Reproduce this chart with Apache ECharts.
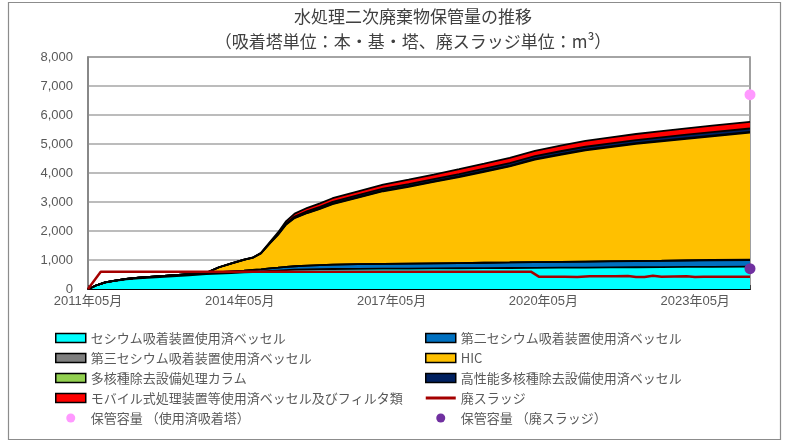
<!DOCTYPE html>
<html>
<head>
<meta charset="utf-8">
<script src="https://cdn.jsdelivr.net/npm/echarts@6/dist/echarts.min.js"></script>
<style>html,body{margin:0;padding:0;background:#fff}#chart{width:787px;height:444px}</style>
</head>
<body>
<div id="chart"></div>
<script>
// 月（共通のx）
var months = ['2011/05','2011/06','2011/07','2011/08','2011/09','2011/11','2012/02','2012/05','2012/11',
  '2013/05','2013/09','2013/12','2014/03','2014/06','2014/08','2014/10','2014/12',
  '2015/02','2015/04','2015/06','2015/09','2015/12','2016/03','2016/09','2017/03','2017/09',
  '2018/03','2018/09','2019/03','2019/09','2020/03','2020/09','2021/03','2021/09',
  '2022/03','2022/09','2023/03','2023/09','2024/06'];
var cesium = [0,60,130,180,220,270,330,370,420,470,510,530,550,570,585,600,620,635,650,665,675,685,
  690,695,700,705,710,715,720,725,730,735,740,745,750,755,760,765,770];
var cesium2 = [0,0,0,0,5,10,20,25,35,40,45,50,55,60,70,80,90,100,110,120,130,140,
  150,160,165,170,175,180,185,190,195,200,205,210,212,215,218,220,225];
var cesium3 = [0,0,0,0,0,0,0,0,0,0,0,0,0,0,0,0,0,0,0,0,0,0,
  0,0,0,0,0,0,0,0,0,0,2,5,8,10,13,16,20];
var hic = [0,0,0,0,0,0,0,0,0,0,3,166,269,372,416,545,844,1133,1462,1661,1815,1934,
  2088,2297,2506,2650,2805,2964,3136,3311,3538,3694,3835,3937,4033,4114,4189,4266,4375];
var alpsColumn = [0,0,0,0,0,0,0,0,0,0,2,4,6,8,9,10,11,12,13,14,15,16,
  17,18,19,20,20,21,21,22,22,23,23,24,24,24,25,25,25];
var hpAlps = [0,0,0,0,0,0,0,0,0,0,0,0,0,0,0,0,5,15,25,40,50,55,
  60,65,70,75,80,85,88,92,95,98,100,104,108,112,115,118,120];
var mobile = [0,0,0,0,0,0,0,0,0,0,0,0,0,0,0,15,30,55,80,100,115,120,
  125,135,140,150,155,165,170,180,185,195,200,205,210,215,220,225,230];
// 廃スラッジ
var sludgeMonths = ['2011/05','2011/08','2020/02','2020/04','2020/10','2021/01','2021/04','2021/10',
  '2022/01','2022/03','2022/05','2022/07','2022/09','2023/03','2023/05','2023/07','2024/06'];
var sludge = [0,597,597,420,420,410,440,440,450,410,415,455,425,440,410,425,420];
// 保管容量
var capMonth = '2024/06';
var capVessel = 6700;
var capSludge = 700;
var xLabels = ['2011年05月','2014年05月','2017年05月','2020年05月','2023年05月'];

function mIdx(s) {
  var p = s.split('/');
  return (Number(p[0]) - 2011) * 12 + (Number(p[1]) - 5);
}
function toDate(s) {
  return s.replace('/', '-') + '-01';
}
function pairs(ms, vals) {
  return ms.map(function (m, i) { return [toDate(m), vals[i]]; });
}

var font = "'Noto Sans CJK JP', sans-serif";
var numFont = "'Liberation Sans', 'Noto Sans CJK JP', sans-serif";
var lastIdx = mIdx(capMonth);

function area(name, vals, color) {
  return {
    name: name, type: 'line', stack: 'total', data: pairs(months, vals),
    symbol: 'none', showSymbol: false,
    lineStyle: { color: '#000', width: 1.8 },
    itemStyle: { color: color },
    areaStyle: { color: color, opacity: 1 }
  };
}
function legendRect(name, color) {
  return { name: name, icon: 'rect', itemStyle: { color: color, borderColor: '#000', borderWidth: 1.5 } };
}

var chart = echarts.init(document.getElementById('chart'));
var option = {
  animation: false,
  backgroundColor: '#fff',
  textStyle: { fontFamily: font },
  graphic: [
    { type: 'rect', shape: { x: 8.5, y: 2.5, width: 772, height: 437 },
      style: { fill: 'none', stroke: '#8c8c8c', lineWidth: 1.2 }, silent: true },
    { type: 'text', x: 413, y: 8,
      style: { text: '水処理二次廃棄物保管量の推移', textAlign: 'center', font: '17px ' + font, fill: '#404040' } },
    { type: 'text', x: 413, y: 33,
      style: { text: '（吸着塔単位：本・基・塔、廃スラッジ単位：m³）', textAlign: 'center', font: '17px ' + font, fill: '#404040' } }
  ],
  grid: { left: 88, right: 37, top: 57, bottom: 155, show: true, borderColor: '#808080', borderWidth: 1.5 },
  legend: [{
    orient: 'vertical', left: 50, top: 326, itemWidth: 30, itemHeight: 9, itemGap: 6,
    textStyle: { fontSize: 13, color: '#595959', fontFamily: font, lineHeight: 14 },
    data: [
      legendRect('セシウム吸着装置使用済ベッセル', '#00FFFF'),
      legendRect('第三セシウム吸着装置使用済ベッセル', '#7F7F7F'),
      legendRect('多核種除去設備処理カラム', '#92D050'),
      legendRect('モバイル式処理装置等使用済ベッセル及びフィルタ類', '#FF0000'),
      { name: '保管容量 （使用済吸着塔）', icon: 'circle', itemStyle: { color: '#FF99FF', borderWidth: 0 } }
    ]
  }, {
    orient: 'vertical', left: 420, top: 326, itemWidth: 30, itemHeight: 9, itemGap: 6,
    textStyle: { fontSize: 13, color: '#595959', fontFamily: font, lineHeight: 14 },
    data: [
      legendRect('第二セシウム吸着装置使用済ベッセル', '#0070C0'),
      legendRect('HIC', '#FFC000'),
      legendRect('高性能多核種除去設備使用済ベッセル', '#002060'),
      { name: '廃スラッジ', icon: 'path://M0,0H30V3H0Z', itemStyle: { color: '#A50000', borderWidth: 0 } },
      { name: '保管容量 （廃スラッジ）', icon: 'circle', itemStyle: { color: '#7030A0', borderWidth: 0 } }
    ]
  }],
  xAxis: [{
    // データ用（非表示）
    type: 'time', show: false, min: toDate(months[0]), max: toDate(capMonth)
  }, {
    // 目盛とラベル（月番号）
    type: 'value', min: 0, max: lastIdx, interval: 36, position: 'bottom',
    axisLine: { lineStyle: { color: '#000', width: 2 } },
    axisTick: { show: true, inside: true, length: 4, lineStyle: { color: '#404040' } },
    splitLine: { show: false },
    axisLabel: {
      fontSize: 13, color: '#595959', fontFamily: numFont, margin: 6,
      formatter: function (v) { return v % 36 === 0 ? xLabels[v / 36] : ''; }
    }
  }],
  yAxis: {
    type: 'value', min: 0, max: 8000, interval: 1000,
    axisLine: { show: true, lineStyle: { color: '#808080', width: 1.5 } },
    axisTick: { show: false },
    splitLine: { lineStyle: { color: '#A6A6A6', width: 1.5 } },
    axisLabel: { fontSize: 13, color: '#595959', fontFamily: numFont, margin: 15 }
  },
  series: [
    area('セシウム吸着装置使用済ベッセル', cesium, '#00FFFF'),
    area('第二セシウム吸着装置使用済ベッセル', cesium2, '#0070C0'),
    area('第三セシウム吸着装置使用済ベッセル', cesium3, '#7F7F7F'),
    area('HIC', hic, '#FFC000'),
    area('多核種除去設備処理カラム', alpsColumn, '#92D050'),
    area('高性能多核種除去設備使用済ベッセル', hpAlps, '#002060'),
    area('モバイル式処理装置等使用済ベッセル及びフィルタ類', mobile, '#FF0000'),
    {
      name: '廃スラッジ', type: 'line', data: pairs(sludgeMonths, sludge),
      symbol: 'none', showSymbol: false, z: 5,
      itemStyle: { color: '#A50000' },
      lineStyle: { color: '#A50000', width: 2.5 }
    },
    {
      name: '保管容量 （使用済吸着塔）', type: 'scatter', data: [[toDate(capMonth), capVessel]],
      symbolSize: 11, clip: false, z: 6, itemStyle: { color: '#FF99FF', opacity: 1 }
    },
    {
      name: '保管容量 （廃スラッジ）', type: 'scatter', data: [[toDate(capMonth), capSludge]],
      symbolSize: 11, clip: false, z: 6, itemStyle: { color: '#7030A0', opacity: 1 }
    }
  ]
};
chart.setOption(option);
</script>
</body>
</html>
